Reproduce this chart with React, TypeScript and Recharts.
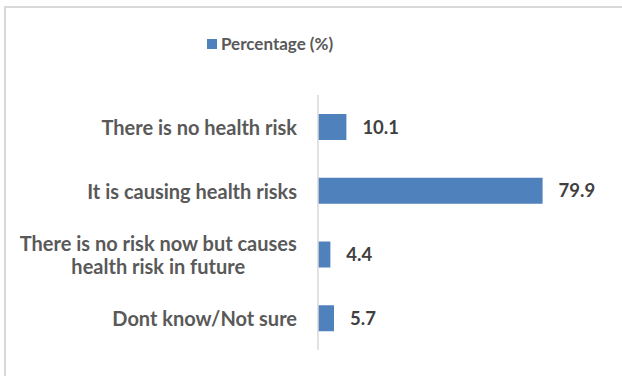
import { BarChart, Bar, XAxis, YAxis, LabelList } from 'recharts';

const categories = [
  'There is no health risk',
  'It is causing health risks',
  'There is no risk now but causes health risk in future',
  'Dont know/Not sure',
];
const percentages = [10.1, 79.9, 4.4, 5.7];
const seriesName = 'Percentage (%)';

const data = categories.map((label, i) => ({ label, value: percentages[i] }));

const FONT = 'Lato, "Open Sans", sans-serif';
const BLUE = '#4F81BD';
const TICK_SIZE = 20;
const MAX_CHARS = 31;

// split a label into lines of at most MAX_CHARS characters
function wrap(text: string) {
  const lines: string[] = [];
  let cur = '';
  for (const w of text.split(' ')) {
    const next = cur ? cur + ' ' + w : w;
    if (next.length > MAX_CHARS && cur) {
      lines.push(cur);
      cur = w;
    } else {
      cur = next;
    }
  }
  if (cur) lines.push(cur);
  return lines;
}

let ctx: CanvasRenderingContext2D | null = null;
function textWidth(s: string) {
  if (!ctx) ctx = document.createElement('canvas').getContext('2d');
  if (!ctx) return s.length * 9;
  ctx.font = `bold ${TICK_SIZE}px ${FONT}`;
  return ctx.measureText(s).width;
}

// category labels: right edge at the tick, extra lines centred under the first
function CategoryTick(props: any) {
  const { x, y, payload } = props;
  const lines = wrap(String(payload.value));
  const lh = 23;
  const w = Math.max(...lines.map(textWidth));
  const cx = lines.length > 1 ? x - w / 2 : x;
  const anchor = lines.length > 1 ? 'middle' : 'end';
  const y0 = y - ((lines.length - 1) * lh) / 2;
  return (
    <text
      x={cx}
      y={y0}
      textAnchor={anchor}
      dominantBaseline="central"
      fill="#595959"
      fontFamily={FONT}
      fontWeight={700}
      fontSize={TICK_SIZE}
    >
      {lines.map((l, i) => (
        <tspan key={i} x={cx} y={y0 + i * lh}>
          {l}
        </tspan>
      ))}
    </text>
  );
}

export default function App() {
  return (
    <div
      style={{
        position: 'absolute',
        left: 4,
        top: 6,
        width: 616,
        height: 368,
        borderTop: '2px solid #d9d9d9',
        borderLeft: '2px solid #d9d9d9',
        background: '#fff',
      }}
    >
      {/* series legend above the plot */}
      <div
        style={{
          position: 'absolute',
          left: 201,
          top: 25,
          display: 'flex',
          alignItems: 'center',
          fontFamily: FONT,
          fontWeight: 700,
          fontSize: 17,
          color: '#595959',
        }}
      >
        <span style={{ width: 10, height: 10, background: BLUE, marginRight: 4, display: 'inline-block' }} />
        {seriesName}
      </div>
      <BarChart
        layout="vertical"
        width={616}
        height={368}
        data={data}
        margin={{ top: 87, right: 51, bottom: 26, left: 0 }}
      >
        <XAxis type="number" domain={[0, 90]} hide />
        <YAxis
          type="category"
          dataKey="label"
          width={312}
          axisLine={{ stroke: '#d9d9d9', strokeWidth: 1.5 }}
          tickLine={false}
          tickSize={0}
          tickMargin={21}
          tick={<CategoryTick />}
          interval={0}
        />
        <Bar dataKey="value" name={seriesName} fill={BLUE} barSize={26} isAnimationActive={false}>
          <LabelList
            dataKey="value"
            position="right"
            offset={16}
            fill="#404040"
            fontFamily={FONT}
            fontWeight={700}
            fontSize={18.5}
          />
        </Bar>
      </BarChart>
    </div>
  );
}
